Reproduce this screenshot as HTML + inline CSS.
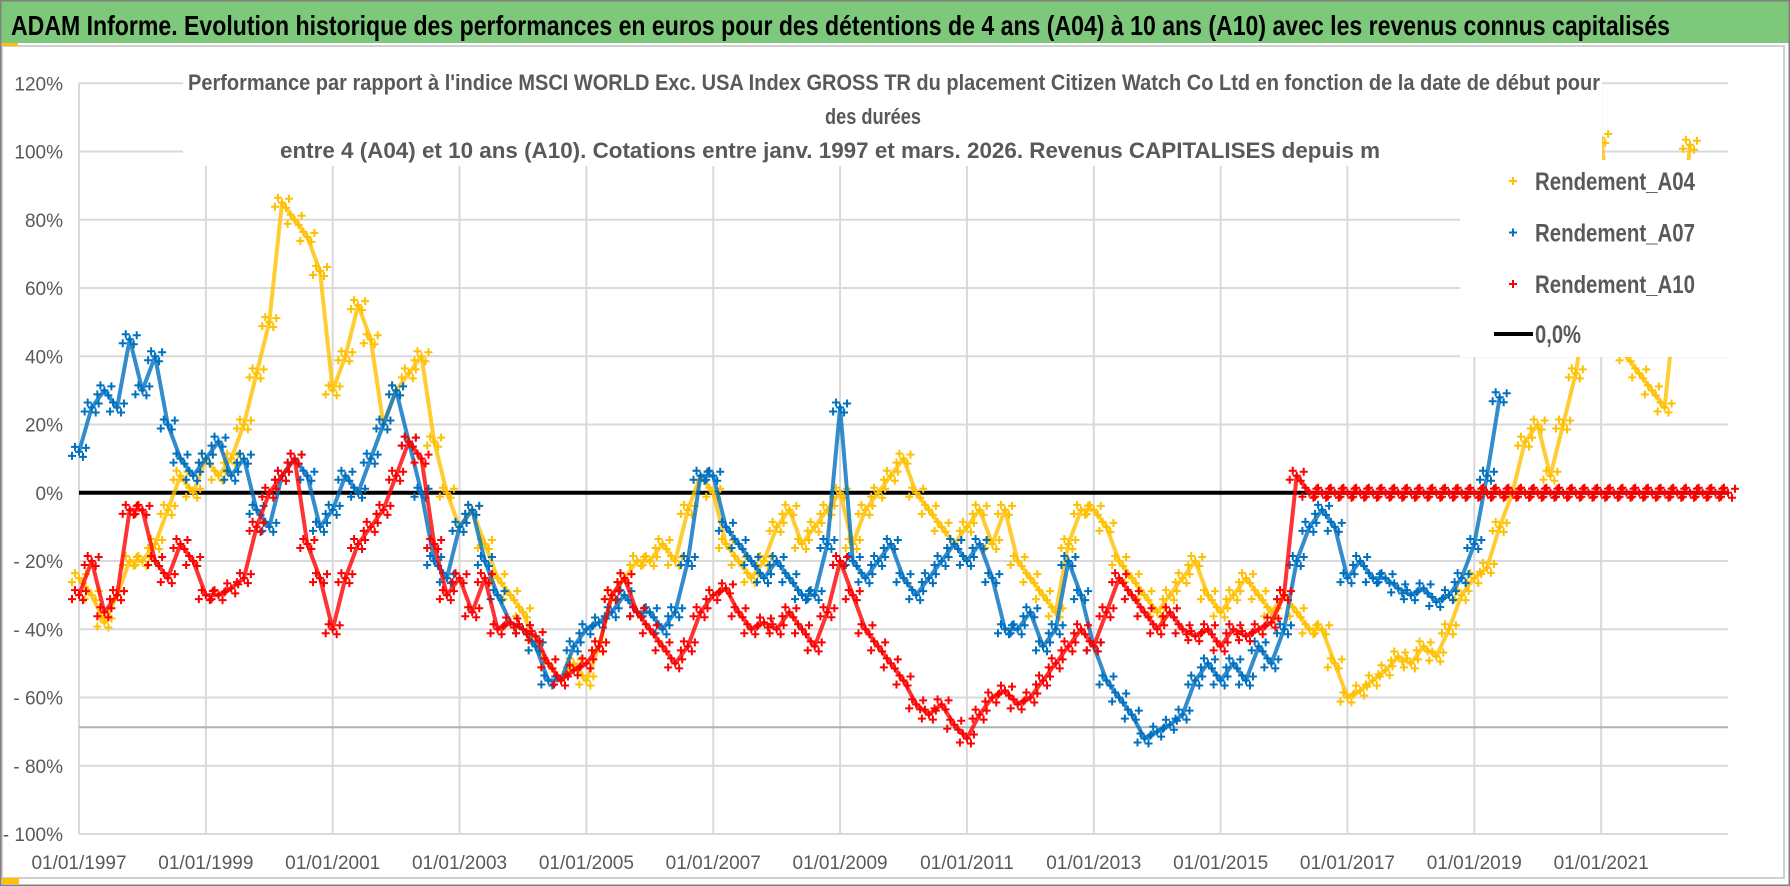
<!DOCTYPE html>
<html><head><meta charset="utf-8"><style>
html,body{margin:0;padding:0;background:#fff;}
svg{display:block;font-family:"Liberation Sans Narrow","Liberation Sans",sans-serif;}
</style></head><body>
<svg id="chart" width="1790" height="886" viewBox="0 0 1790 886" xmlns="http://www.w3.org/2000/svg">
<rect x="0" y="0" width="1790" height="886" fill="#fff"/>
<rect x="1" y="1" width="1788" height="42" fill="#7ec87c"/>
<text x="11" y="35" font-size="28" font-weight="bold" fill="#000" textLength="1659" lengthAdjust="spacingAndGlyphs">ADAM Informe. Evolution historique des performances en euros pour des détentions de 4 ans (A04) à 10 ans (A10) avec les revenus connus capitalisés</text>
<rect x="2" y="46" width="1782" height="832" fill="none" stroke="#d0d0d0" stroke-width="2"/>
<rect x="0.5" y="0.5" width="1789" height="885" fill="none" stroke="#808080" stroke-width="2"/>
<rect x="2" y="43" width="16" height="3" fill="#ffc000"/>
<rect x="2" y="878" width="17" height="6" fill="#ffc000"/>
<g id="grid"></g>
<g id="series"></g>
<g id="overlays"></g>
</svg>
<script>
const yTicks = [120,100,80,60,40,20,0,-20,-40,-60,-80,-100];
const yTickLabels = ["120%","100%","80%","60%","40%","20%","0%","- 20%","- 40%","- 60%","- 80%","- 100%"];
const xTickYears = [1997,1999,2001,2003,2005,2007,2009,2011,2013,2015,2017,2019,2021];
const xTickLabels = ["01/01/1997","01/01/1999","01/01/2001","01/01/2003","01/01/2005","01/01/2007","01/01/2009","01/01/2011","01/01/2013","01/01/2015","01/01/2017","01/01/2019","01/01/2021"];
const seriesStartYear = 1997.0;
const seriesStepYears = 0.2;
const rendementA04 = [
-25,-30,-38,-30,-20, -20,-15,-5,5,0, 10,5,10,20,35, 50,85,80,75,65,
30,40,55,45,20, 30,35,40,15,0, -10,-5,-15,-25,-30, -35,-45,-50,-55,-50,
-55,-45,-30,-25,-20, -20,-15,-20,-5,5, 0,-15,-20,-25,-20, -10,-5,-15,-10,-5,
0,-15,-5,0,5, 10,0,-5,-10,-15, -10,-5,-15,-5,-20, -25,-30,-35,-15,-5,
-5,-10,-20,-25,-30, -35,-30,-25,-20,-30, -35,-30,-25,-30,-35, -30,-35,-40,-40,-50,
-60,-58,-55,-52,-48, -50,-45,-48,-40,-30, -25,-22,-10,0,15, 20,5,20,35,60,
104,70,40,35,30, 25,60,102
];
const rendementA07 = [
12,25,30,25,45, 30,40,20,10,5, 10,15,5,10,-5, -10,5,10,5,-10,
-5,5,0,10,20, 30,15,0,-20,-25, -10,-5,-20,-30,-38, -40,-45,-55,-55,-45,
-40,-38,-35,-30,-35, -35,-40,-35,-20,5, 5,-10,-15,-20,-25, -20,-25,-30,-30,-15,
25,-20,-25,-20,-15, -25,-30,-25,-20,-15, -20,-15,-25,-40,-40, -35,-45,-40,-20,-30,
-45,-55,-60,-65,-72, -70,-68,-65,-55,-50, -55,-50,-55,-45,-50, -40,-20,-10,-5,-10,
-25,-20,-25,-25,-28, -30,-28,-32,-30,-25, -15,5,28
];
const rendementA10 = [
-30,-20,-35,-30,-5, -5,-20,-25,-15,-20, -30,-30,-28,-25,-10, 0,5,10,-15,-25,
-40,-25,-15,-10,-5, 5,15,10,-15,-30, -25,-35,-25,-40,-38, -40,-42,-50,-55,-52,
-50,-45,-30,-25,-35, -40,-45,-50,-45,-35, -30,-28,-35,-40,-38, -40,-35,-40,-45,-35,
-20,-30,-40,-45,-50, -55,-62,-65,-62,-68, -72,-65,-60,-58,-62, -60,-55,-50,-45,-40,
-45,-35,-25,-30,-35, -40,-35,-40,-42,-40, -45,-40,-42,-40,-38, -30,5,0,0,0,
0,0,0,0,0, 0,0,0,0,0, 0,0,0,0,0, 0,0,0,0,0,
0,0,0,0,0, 0,0,0,0,0, 0
];
const extraLineValue = -68.7;

const NS = "http://www.w3.org/2000/svg";
const plotLeft = 79, plotRight = 1728, yTop = 83.3, yBottom = 834;
const xMinYear = 1997, xMaxYear = 2023;
function xScale(yr){ return plotLeft + (yr - xMinYear) / (xMaxYear - xMinYear) * (plotRight - plotLeft); }
function yScale(v){ return yTop + (120 - v) / 220 * (yBottom - yTop); }
function mk(tag, attrs, parent){ const e = document.createElementNS(NS, tag); for (const k in attrs) e.setAttribute(k, attrs[k]); parent.appendChild(e); return e; }

const grid = document.getElementById('grid');
yTicks.forEach((t, i) => {
  const y = yScale(t);
  const l = mk('line', {x1: plotLeft, x2: plotRight, y1: y, y2: y, stroke: '#d9d9d9', 'stroke-width': 2}, grid);
  
  
  const tx = mk('text', {x: 63, y: y + 7, 'text-anchor': 'end', 'font-size': 19, fill: '#595959'}, grid);
  tx.textContent = yTickLabels[i];
  
  
});
xTickYears.forEach((yr, i) => {
  const x = xScale(yr);
  if (i > 0) {
    const l = mk('line', {x1: x, x2: x, y1: yTop, y2: yBottom, stroke: '#d9d9d9', 'stroke-width': 2}, grid);
    
    
  }
  const tx = mk('text', {x: x, y: 869, 'text-anchor': 'middle', 'font-size': 19, fill: '#595959'}, grid);
  tx.textContent = xTickLabels[i];
  
  
});
const yAxis = mk('line', {x1: plotLeft, x2: plotLeft, y1: yTop, y2: yBottom, stroke: '#d9d9d9', 'stroke-width': 2}, grid);


const extra = mk('line', {x1: plotLeft, x2: plotRight, y1: yScale(extraLineValue), y2: yScale(extraLineValue), stroke: '#b0b0b0', 'stroke-width': 2}, grid);



const ser = document.getElementById('series');
const zl = mk('line', {x1: plotLeft, x2: plotRight, y1: yScale(0), y2: yScale(0), stroke: '#000', 'stroke-width': 4}, ser);



function drawSeries(values, color, name){
  const g = mk('g', {}, ser);
  
  
  let d = '';
  values.forEach((v, i) => {
    const x = xScale(seriesStartYear + i * seriesStepYears), y = yScale(v);
    d += (i ? 'L' : 'M') + x.toFixed(1) + ' ' + y.toFixed(1);
  });
  const p = mk('path', {d: d, fill: 'none', stroke: color, 'stroke-width': 4, 'stroke-linejoin': 'round', opacity: 0.8}, g);
  
  
  values.forEach((v, i) => {
    const x = xScale(seriesStartYear + i * seriesStepYears), y = yScale(v);
    [[0,0],[4,5],[-4,-5],[7,-4],[-7,4]].forEach(o => {
      const m = mk('path', {d: `M${x+o[0]-4} ${y+o[1]}h8M${x+o[0]} ${y+o[1]-4}v8`, stroke: color, 'stroke-width': 2}, g);
      
      
    });
  });
}
drawSeries(rendementA04, '#ffc000', 'series-a04');
drawSeries(rendementA07, '#0070c0', 'series-a07');
drawSeries(rendementA10, '#ff0000', 'series-a10');

const ov = document.getElementById('overlays');
const tb = mk('rect', {x: 183, y: 62, width: 1419, height: 104, fill: '#fff'}, ov);


const titleLines = [
  ["Performance par rapport à l'indice MSCI WORLD Exc. USA Index GROSS TR  du placement Citizen Watch Co Ltd en fonction de la date de début pour", 188, 90, 1412],
  ["des durées", 825, 124, 96],
  ["entre 4 (A04) et 10 ans (A10).  Cotations entre janv. 1997 et mars. 2026.  Revenus CAPITALISES depuis m", 280, 158, 1100]
];
titleLines.forEach(t => {
  const e = mk('text', {x: t[1], y: t[2], 'font-size': 22, 'font-weight': 'bold', fill: '#595959', textLength: t[3], lengthAdjust: 'spacingAndGlyphs'}, ov);
  e.textContent = t[0];
  
  
});
const lb = mk('rect', {x: 1460, y: 160, width: 268, height: 197, fill: '#fff'}, ov);


const legendNames = ["Rendement_A04", "Rendement_A07", "Rendement_A10"];
const legendColors = ["#ffc000", "#0070c0", "#ff0000"];
legendNames.forEach((n, i) => {
  const y = 181 + i * 51.5;
  const m = mk('path', {d: `M${1509} ${y}h8M${1513} ${y-4}v8`, stroke: legendColors[i], 'stroke-width': 2}, ov);
  
  
  const t = mk('text', {x: 1535, y: y + 9, 'font-size': 25, 'font-weight': 'bold', fill: '#595959', textLength: 160, lengthAdjust: 'spacingAndGlyphs'}, ov);
  t.textContent = n;
  
  
});
const ll = mk('line', {x1: 1494, x2: 1533, y1: 334, y2: 334, stroke: '#000', 'stroke-width': 4}, ov);


const lt = mk('text', {x: 1535, y: 343, 'font-size': 25, 'font-weight': 'bold', fill: '#595959', textLength: 46, lengthAdjust: 'spacingAndGlyphs'}, ov);
lt.textContent = "0,0%";


</script>
</body></html>
